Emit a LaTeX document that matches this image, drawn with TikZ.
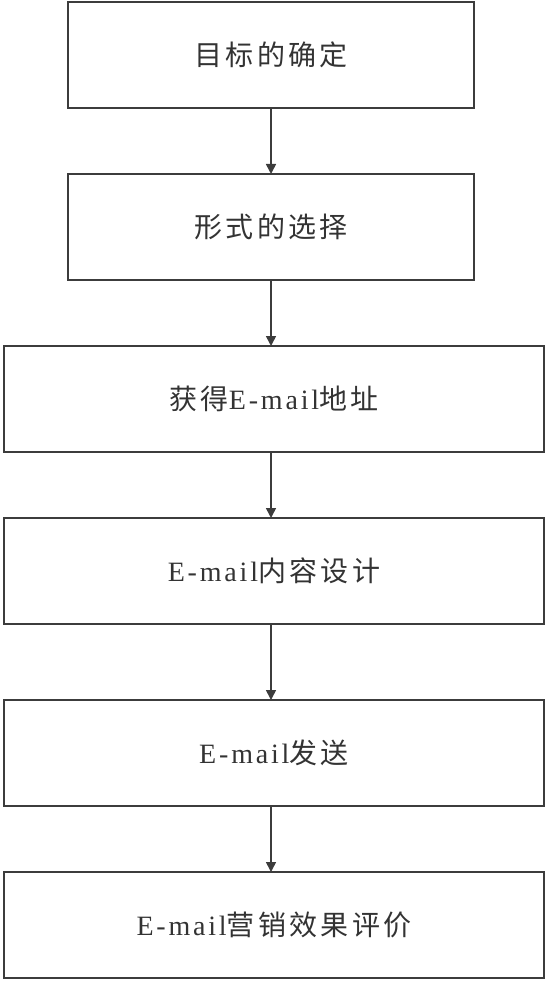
\documentclass[tikz,border=0pt]{standalone}
\usepackage{fontspec}
\setmainfont[LetterSpace=10]{Liberation Serif}
\newfontfamily\cjk[LetterSpace=12]{Noto Sans CJK SC}
\usepackage{tikz}
\usetikzlibrary{arrows.meta,positioning}
\definecolor{LineGray}{HTML}{3C3C3C}
\definecolor{TextGray}{HTML}{333333}
\newcommand{\zh}[1]{{\cjk #1}}

\tikzset{
  flowbox/.style={draw=LineGray,line width=1pt,minimum height=53pt,
                  inner sep=0pt,outer sep=0pt,text=TextGray,font=\fontsize{14pt}{16pt}\selectfont},
  narrowbox/.style={flowbox,minimum width=203pt},
  widebox/.style={flowbox,minimum width=270pt},
  flowarrow/.style={draw=LineGray,line width=0.8pt,-{Triangle[length=5pt,width=5pt]}}
}

\begin{document}
\begin{tikzpicture}
    \useasboundingbox (0,0) rectangle (273pt,-492pt);
    % steps, top to bottom
    \node[narrowbox] (goal) at (135.5pt,-27.5pt) {\zh{目标的确定}};
    \node[narrowbox,below=33pt of goal] (form) {\zh{形式的选择}};
    \node[widebox,below=33pt of form,xshift=1.5pt] (addr) {\zh{获得}E-mail\zh{地址}};
    \node[widebox,below=33pt of addr] (design) {E-mail\zh{内容设计}};
    \node[widebox,below=38pt of design] (send) {E-mail\zh{发送}};
    \node[widebox,below=33pt of send] (eval) {E-mail\zh{营销效果评价}};
    % connectors, all on the axis of the top box
    \foreach \a/\b in {goal/form,form/addr,addr/design,design/send,send/eval}
      \draw[flowarrow] (\a.south -| goal) -- (\b.north -| goal);
  \end{tikzpicture}
\end{document}
